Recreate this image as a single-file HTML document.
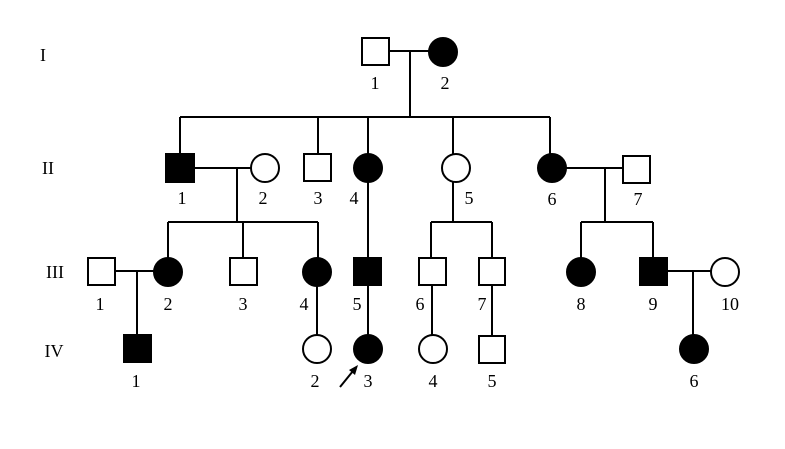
<!DOCTYPE html>
<html><head><meta charset="utf-8"><style>
html,body{margin:0;padding:0;background:#fff;width:785px;height:449px;overflow:hidden}
svg text{font-family:"Liberation Serif",serif;font-size:18px;fill:#000}
</style></head><body>
<svg width="785" height="449" viewBox="0 0 785 449" xmlns="http://www.w3.org/2000/svg">
<g stroke="#000" stroke-width="2" fill="none">
<!-- Gen I -->
<line x1="389" y1="51" x2="430" y2="51"/>
<line x1="410" y1="51" x2="410" y2="117"/>
<line x1="180" y1="117" x2="550" y2="117"/>
<line x1="180" y1="117" x2="180" y2="154"/>
<line x1="318" y1="117" x2="318" y2="154"/>
<line x1="368" y1="117" x2="368" y2="154"/>
<line x1="453" y1="117" x2="453" y2="154"/>
<line x1="550" y1="117" x2="550" y2="154"/>
<!-- Gen II links -->
<line x1="194" y1="168" x2="251" y2="168"/>
<line x1="237" y1="168" x2="237" y2="222"/>
<line x1="168" y1="222" x2="318" y2="222"/>
<line x1="168" y1="222" x2="168" y2="258"/>
<line x1="243" y1="222" x2="243" y2="258"/>
<line x1="318" y1="222" x2="318" y2="258"/>
<line x1="368" y1="182" x2="368" y2="258"/>
<line x1="453" y1="182" x2="453" y2="222"/>
<line x1="431" y1="222" x2="492" y2="222"/>
<line x1="431" y1="222" x2="431" y2="258"/>
<line x1="492" y1="222" x2="492" y2="258"/>
<line x1="566" y1="168" x2="623" y2="168"/>
<line x1="605" y1="168" x2="605" y2="222"/>
<line x1="581" y1="222" x2="653" y2="222"/>
<line x1="581" y1="222" x2="581" y2="258"/>
<line x1="653" y1="222" x2="653" y2="258"/>
<!-- Gen III links -->
<line x1="115" y1="271" x2="155" y2="271"/>
<line x1="137" y1="271" x2="137" y2="335"/>
<line x1="317" y1="286" x2="317" y2="335"/>
<line x1="368" y1="286" x2="368" y2="335"/>
<line x1="432" y1="286" x2="432" y2="335"/>
<line x1="492" y1="286" x2="492" y2="335"/>
<line x1="667" y1="271" x2="711" y2="271"/>
<line x1="693" y1="271" x2="693" y2="335"/>
<!-- shapes -->
<rect x="362" y="38" width="27" height="27" fill="#fff"/>
<circle cx="443" cy="52" r="14" fill="#000"/>
<rect x="166" y="154" width="28" height="28" fill="#000"/>
<circle cx="265" cy="168" r="14" fill="#fff"/>
<rect x="304" y="154" width="27" height="27" fill="#fff"/>
<circle cx="368" cy="168" r="14" fill="#000"/>
<circle cx="456" cy="168" r="14" fill="#fff"/>
<circle cx="552" cy="168" r="14" fill="#000"/>
<rect x="623" y="156" width="27" height="27" fill="#fff"/>
<rect x="88" y="258" width="27" height="27" fill="#fff"/>
<circle cx="168" cy="272" r="14" fill="#000"/>
<rect x="230" y="258" width="27" height="27" fill="#fff"/>
<circle cx="317" cy="272" r="14" fill="#000"/>
<rect x="354" y="258" width="27" height="27" fill="#000"/>
<rect x="419" y="258" width="27" height="27" fill="#fff"/>
<rect x="479" y="258" width="26" height="27" fill="#fff"/>
<circle cx="581" cy="272" r="14" fill="#000"/>
<rect x="640" y="258" width="27" height="27" fill="#000"/>
<circle cx="725" cy="272" r="14" fill="#fff"/>
<rect x="124" y="335" width="27" height="27" fill="#000"/>
<circle cx="317" cy="349" r="14" fill="#fff"/>
<circle cx="368" cy="349" r="14" fill="#000"/>
<circle cx="433" cy="349" r="14" fill="#fff"/>
<rect x="479" y="336" width="26" height="27" fill="#fff"/>
<circle cx="694" cy="349" r="14" fill="#000"/>
<!-- arrow -->
<line x1="340" y1="387" x2="353" y2="371"/>
</g>
<polygon points="358,365 349,370 355,375" fill="#000"/>
<g text-anchor="middle">
<text x="43" y="61">I</text>
<text x="48" y="174">II</text>
<text x="55" y="278">III</text>
<text x="54" y="357">IV</text>
<text x="375" y="89">1</text>
<text x="445" y="89">2</text>
<text x="182" y="204">1</text>
<text x="263" y="204">2</text>
<text x="318" y="204">3</text>
<text x="354" y="204">4</text>
<text x="469" y="204">5</text>
<text x="552" y="205">6</text>
<text x="638" y="205">7</text>
<text x="100" y="310">1</text>
<text x="168" y="310">2</text>
<text x="243" y="310">3</text>
<text x="304" y="310">4</text>
<text x="357" y="310">5</text>
<text x="420" y="310">6</text>
<text x="482" y="310">7</text>
<text x="581" y="310">8</text>
<text x="653" y="310">9</text>
<text x="730" y="310">10</text>
<text x="136" y="387">1</text>
<text x="315" y="387">2</text>
<text x="368" y="387">3</text>
<text x="433" y="387">4</text>
<text x="492" y="387">5</text>
<text x="694" y="387">6</text>
</g>
</svg>
</body></html>
